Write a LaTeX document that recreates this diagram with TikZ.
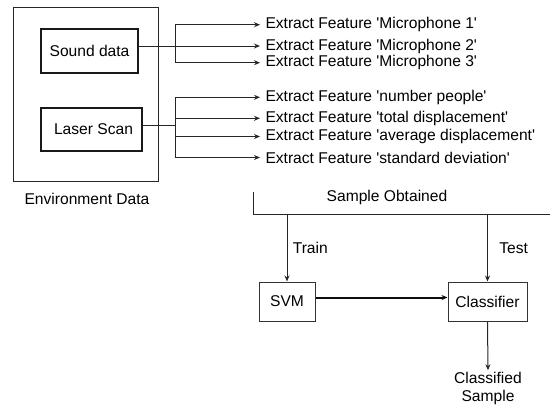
\documentclass[tikz,border=0pt]{standalone}
\usepackage{fontspec}
\setmainfont{Liberation Sans}[Ligatures=TeXOff]
\usetikzlibrary{arrows.meta}

\begin{document}
\begin{tikzpicture}[
      x = 1pt, y = -1pt,
      font = \fontsize{15.6}{18}\selectfont,
      line width = 1pt,
      envbox/.style = {
        draw = black!85,
        line width = 1pt,
      },
      srcbox/.style = {
        draw = black!90,
        line width = 2pt,
      },
      clsbox/.style = {
        draw = black!80,
        line width = 1pt,
        minimum height = 39pt,
      },
      feat/.style = {
        anchor = west,
        inner xsep = 5pt,
        inner ysep = 1pt,
      },
      conn/.style = {draw = black!85},
      arr/.style = {conn, -{Stealth[length=6pt, width=5pt]}},
    ]
    \useasboundingbox (0,0) rectangle (550,405);

    % environment data
    \node[envbox, minimum width = 145pt, minimum height = 174pt] (env) at (85.5,94) {};
    \node (envlbl) at (87,199) {Environment Data};
    \node[srcbox, minimum width = 97pt, minimum height = 44pt] (snd) at (89.5,51) {Sound data};
    \node[srcbox, minimum width = 101pt, minimum height = 43pt] (las) at (91.5,129.5) {\hspace{4pt}Laser Scan};

    % extracted features
    \foreach \name/\y/\txt in {mic1/24.7/Microphone 1, mic2/46/Microphone 2,
        mic3/62.7/Microphone 3, ftr1/97.3/number people,
        ftr2/118.3/total displacement, ftr3/136.5/average displacement,
        ftr4/157.5/standard deviation}
      \node[feat] (\name) at (260,\y) {Extract Feature '\txt'};

    \coordinate (bsnd) at (175,46);
    \draw[arr] (snd.east |- mic2.west) -- (mic2.west);
    \draw[arr] (bsnd) |- (mic1.west);
    \draw[arr] (bsnd) |- (mic3.west);

    \coordinate (blas) at (175,125);
    \draw[conn] (las.east |- blas) -- (blas);
    \foreach \name in {ftr1,ftr2,ftr3,ftr4}
      \draw[arr] (blas) |- (\name.west);

    % samples and classification
    \node (smp) at (387,197) {Sample Obtained};
    \coordinate (busl) at (253,192);
    \coordinate (busr) at (550,214.5);
    \draw[conn] (busl) |- (busr);

    \node[clsbox, minimum width = 56pt] (svm) at (287,301.5) {SVM};
    \node[clsbox, minimum width = 79pt] (cls) at (487.5,301.5) {Classifier};
    \draw[arr] (svm.north |- busr) -- node[right, xshift=2pt] (train) {Train} (svm.north);
    \draw[arr] (cls.north |- busr) -- node[right, xshift=8pt] (test) {Test} (cls.north);
    \draw[arr, line width = 2pt, draw = black!95] ([yshift=4pt]svm.east) -- ([yshift=4pt]cls.west);

    \node[align = center, inner sep = 1pt] (out) at (488,388) {Classified\\Sample};
    \draw[arr] (cls.south) -- (out.north);
  \end{tikzpicture}
\end{document}
